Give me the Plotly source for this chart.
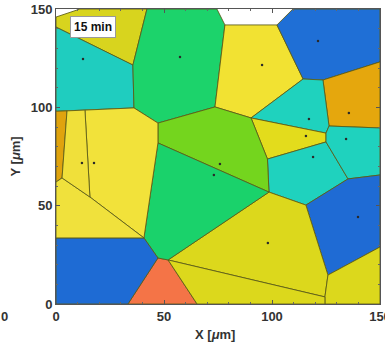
import plotly.graph_objects as go

# Voronoi cells: name -> (x vertices, y vertices, colour)   [um]
cell_names = ["A", "B", "C", "D", "E", "F", "G", "H", "I", "J",
              "K", "L", "M", "N", "O", "P", "Q", "R", "S", "T", "U", "V"]
cell_x = {
    "A": [0, 11.1, 42.1, 35.6, 0],
    "B": [0, 35.6, 36.1, 0],
    "C": [42.1, 74.5, 78.2, 73.6, 47.2, 36.1, 35.6],
    "D": [78.2, 102.3, 114.4, 90.3, 73.6],
    "E": [102.3, 109.7, 150, 150, 123.6, 114.4],
    "F": [123.6, 150, 150, 126.4],
    "G": [90.3, 114.4, 123.6, 126.4, 125.0],
    "H": [90.3, 125.0, 125.0, 97.9],
    "I": [97.9, 125.0, 135.2, 115.7, 98.6],
    "J": [126.4, 150, 150, 135.2, 125.0, 125.0],
    "K": [115.7, 135.2, 150, 150, 125.9],
    "L": [47.2, 73.6, 90.3, 97.9, 98.6, 47.2],
    "M": [51.9, 98.6, 115.7, 125.9, 124.5],
    "N": [125.9, 150, 150, 124.5, 124.5],
    "O": [47.2, 51.9, 65.3, 33.3],
    "P": [51.9, 124.5, 124.5, 65.3],
    "Q": [47.2, 98.6, 51.9, 47.2, 40.7],
    "R": [13.4, 36.1, 47.2, 47.2, 40.7, 15.7],
    "S": [0, 40.7, 47.2, 33.3, 0],
    "T": [0, 5.1, 2.8, 0],
    "U": [0, 2.8, 15.7, 40.7, 0],
    "V": [5.1, 13.4, 15.7, 2.8],
}
cell_y = {
    "A": [145.9, 150, 150, 121.5, 140.8],
    "B": [140.8, 121.5, 99.7, 98.0],
    "C": [150, 150, 141.9, 100.2, 92.0, 99.7, 121.5],
    "D": [141.9, 141.9, 114.4, 94.6, 100.2],
    "E": [141.9, 150, 150, 123.1, 113.9, 114.4],
    "F": [113.9, 123.1, 89.5, 90.5],
    "G": [94.6, 114.4, 113.9, 90.5, 86.9],
    "H": [94.6, 86.9, 82.4, 73.7],
    "I": [73.7, 82.4, 63.6, 50.3, 56.9],
    "J": [90.5, 89.5, 65.6, 63.6, 82.4, 86.9],
    "K": [50.3, 63.6, 65.6, 29.0, 14.7],
    "L": [92.0, 100.2, 94.6, 73.7, 56.9, 81.9],
    "M": [22.4, 56.9, 50.3, 14.7, 3.6],
    "N": [14.7, 29.0, 0, 0, 3.6],
    "O": [23.4, 22.4, 0, 0],
    "P": [22.4, 3.6, 0, 0],
    "Q": [81.9, 56.9, 22.4, 23.4, 33.6],
    "R": [98.6, 99.7, 92.0, 81.9, 33.6, 54.4],
    "S": [33.6, 33.6, 23.4, 0, 0],
    "T": [98.0, 98.2, 64.1, 62.0],
    "U": [62.0, 64.1, 54.4, 33.6, 33.6],
    "V": [98.2, 98.6, 54.4, 64.1],
}
cell_color = {
    "A": "#d8d41e", "B": "#1fcdbf", "C": "#1cd36b", "D": "#f2e232",
    "E": "#1f6fd6", "F": "#e5a70d", "G": "#1fd2be", "H": "#e3dc1c",
    "I": "#1fd2be", "J": "#1fd2be", "K": "#1f6bd4", "L": "#74d51e",
    "M": "#dcd81c", "N": "#dcd81c", "O": "#f47447", "P": "#dcd81c",
    "Q": "#1ad26b", "R": "#f2e23a", "S": "#1e6bd4", "T": "#e0a30e",
    "U": "#f0e13c", "V": "#f0e03a",
}

# visible seed points [um]
seed_x = [12.5, 57.4, 95.4, 121.3, 135.6, 117.1, 115.7, 134.3, 119.0,
          139.8, 98.1, 75.9, 73.1, 12.0, 17.6]
seed_y = [124.6, 125.6, 121.5, 133.7, 97.1, 94.1, 85.4, 83.9, 74.7,
          44.2, 31.0, 71.2, 65.6, 71.7, 71.7]

tick_vals = [0, 50, 100, 150]
tick_text = ["0", "50", "100", "150"]

fig = go.Figure()
for n in cell_names:
    fig.add_trace(go.Scatter(
        x=cell_x[n] + [cell_x[n][0]], y=cell_y[n] + [cell_y[n][0]],
        mode="lines", fill="toself", fillcolor=cell_color[n],
        line=dict(color="rgba(90,90,22,0.85)", width=1),
        hoverinfo="skip", showlegend=False))

fig.add_trace(go.Scatter(x=seed_x, y=seed_y, mode="markers",
                         marker=dict(size=2.5, color="#2a2a2a"),
                         showlegend=False, hoverinfo="skip"))

font_b = dict(family="Liberation Sans, Arial, sans-serif", size=13,
              color="#333333", weight="bold")

axis_common = dict(
    range=[0, 150], showgrid=False, zeroline=False, automargin=False,
    showline=True, linecolor="#555555", linewidth=1, mirror="ticks",
    ticks="inside", ticklen=4, tickcolor="#555555",
    tickvals=tick_vals, ticktext=tick_text, tickfont=font_b,
    ticklabeloverflow="allow",
    minor=dict(ticks="inside", ticklen=2, dtick=10, tick0=0,
               tickcolor="#666666"),
)
fig.update_xaxes(**axis_common)
fig.update_yaxes(**axis_common)

fig.add_annotation(x=17.1, y=140.6, xref="x", yref="y", text="<b>15 min</b>",
                   showarrow=False, bgcolor="white", bordercolor="#999999",
                   borderwidth=1, borderpad=3,
                   font=dict(family="Liberation Sans, Arial, sans-serif",
                             size=12, color="#111111"))
fig.add_annotation(x=0.49, y=0, xref="paper", yref="paper", yshift=-30,
                   yanchor="middle", text="X [<i>μ</i>m]", showarrow=False,
                   font=font_b)
fig.add_annotation(x=0, y=0.5, xref="paper", yref="paper", xshift=-41,
                   xanchor="center", text="Y [<i>μ</i>m]", textangle=-90,
                   showarrow=False, font=font_b)
fig.add_annotation(x=0, y=0, xref="paper", yref="paper", xshift=-52,
                   yshift=-12, xanchor="center", yanchor="middle", text="0",
                   showarrow=False, font=font_b)

fig.update_layout(width=385, height=346,
                  margin=dict(l=56, r=5, t=9, b=42, autoexpand=False),
                  paper_bgcolor="white", plot_bgcolor="white")
fig.write_html("out.html", config={"displayModeBar": False},
               post_script="document.body.style.margin='0';"
                           "document.body.style.overflow='hidden';")
